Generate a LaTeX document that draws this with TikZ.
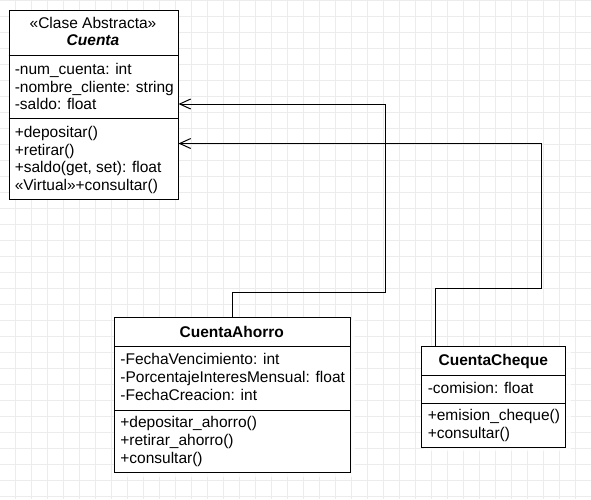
\documentclass[tikz,border=0pt]{standalone}
\usepackage{fontspec}
\setmainfont{Liberation Sans}
\usetikzlibrary{arrows.meta}
\begin{document}
\begin{tikzpicture}[x=1pt,y=-1pt,
  box/.style={draw=black, line width=1pt, fill=white, rectangle, inner sep=0pt, anchor=north west},
  shadowbox/.style={fill=white, opacity=0.75, draw=none},
  txt/.style={inner sep=0pt, anchor=base west, font=\fontsize{15.5}{18}\selectfont},
  ttl/.style={inner sep=0pt, anchor=base, font=\fontsize{15.5}{18}\selectfont},
  sep/.style={draw=black, line width=1pt},
  assoc/.style={draw=black, line width=1pt, -{Straight Barb[length=11pt,width=10pt,line width=1pt]}}
]
\useasboundingbox (0,0) rectangle (591,499);
\fill[white] (0,0) rectangle (591,499);
% grid
\foreach \gx in {15.3,31.3,...,591} {\draw[gray!15, line width=0.8pt] (\gx,0) -- (\gx,499);}
\foreach \gy in {0.7,16.7,...,499} {\draw[gray!15, line width=0.8pt] (0,\gy) -- (591,\gy);}

% shadows
\fill[shadowbox] (117,320) rectangle (355,477);
\fill[shadowbox] (424,349) rectangle (571,451);

% Cuenta
\node[box, minimum width=169pt, minimum height=189pt] (cuenta) at (8.5,9.5) {};
\draw[sep] (8.5,55) -- (177.5,55);
\draw[sep] (8.5,118.5) -- (177.5,118.5);
\node[ttl] (cst) at (93,28.3) {«Clase Abstracta»};
\node[ttl] (cnm) at (93,45.7) {\textbf{\textit{Cuenta}}};
\node[txt] (ca1) at (14.6,74.3) {-num\_cuenta: int};
\node[txt] (ca2) at (14.6,92.1) {-nombre\_cliente: string};
\node[txt] (ca3) at (14.6,109.9) {-saldo: float};
\node[txt] (cm1) at (14.6,137.3) {+depositar()};
\node[txt] (cm2) at (14.6,155.1) {+retirar()};
\node[txt] (cm3) at (14.6,172.9) {+saldo(get, set): float};
\node[txt] (cm4) at (14.6,190.7) {«Virtual»+consultar()};

% CuentaAhorro
\node[box, minimum width=235.5pt, minimum height=155pt] (ahorro) at (114,317) {};
\draw[sep] (114,346) -- (349.5,346);
\draw[sep] (114,410) -- (349.5,410);
\node[ttl] (anm) at (231.75,337) {\textbf{CuentaAhorro}};
\node[txt] (aa1) at (120.2,364) {-FechaVencimiento: int};
\node[txt] (aa2) at (120.2,382) {-PorcentajeInteresMensual: float};
\node[txt] (aa3) at (120.2,400) {-FechaCreacion: int};
\node[txt] (am1) at (120.2,427.7) {+depositar\_ahorro()};
\node[txt] (am2) at (120.2,445.7) {+retirar\_ahorro()};
\node[txt] (am3) at (120.2,463.7) {+consultar()};

% CuentaCheque
\node[box, minimum width=144pt, minimum height=100.7pt] (cheque) at (421.3,346) {};
\draw[sep] (421.3,375.7) -- (565.3,375.7);
\draw[sep] (421.3,403.3) -- (565.3,403.3);
\node[ttl] (qnm) at (493.3,365.3) {\textbf{CuentaCheque}};
\node[txt] (qa1) at (427.6,393.3) {-comision: float};
\node[txt] (qm1) at (427.6,420.7) {+emision\_cheque()};
\node[txt] (qm2) at (427.6,438.3) {+consultar()};

% connectors
\coordinate (j1) at (232,292.7);
\coordinate (k1) at (385.3,104);
\coordinate (j2) at (435.3,288);
\coordinate (k2) at (541.3,143.5);
\draw[assoc] (ahorro.north -| j1) -- (j1) -| (k1) -- (cuenta.east |- k1);
\draw[assoc] (cheque.north -| j2) -- (j2) -| (k2) -- (cuenta.east |- k2);
\end{tikzpicture}
\end{document}
